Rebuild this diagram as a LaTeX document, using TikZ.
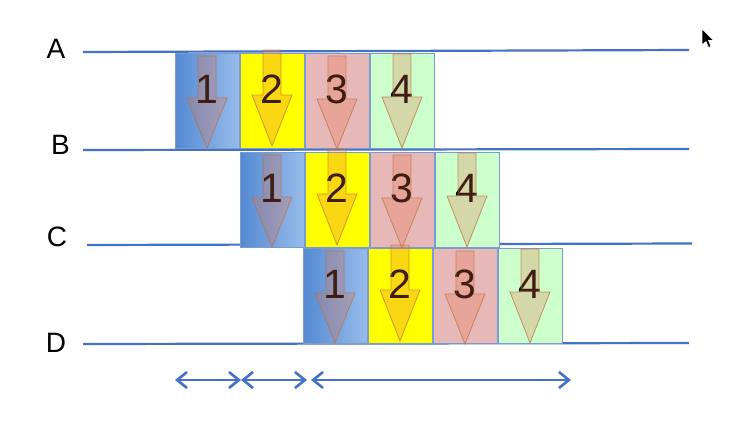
\documentclass[tikz,border=0pt]{standalone}
\usepackage{fontspec}
\setmainfont{Liberation Sans}
\usetikzlibrary{arrows.meta}
\definecolor{lineblue}{RGB}{68,114,196}
\definecolor{boxedge}{RGB}{125,155,205}
\definecolor{blueL}{RGB}{84,138,210}
\definecolor{blueR}{RGB}{152,188,234}
\definecolor{ylw}{RGB}{255,255,0}
\definecolor{pnk}{RGB}{230,185,184}
\definecolor{grn}{RGB}{204,255,204}
\definecolor{arrfill}{RGB}{235,110,69}
\definecolor{arredge}{RGB}{190,110,60}
\tikzset{
  rowline/.style={draw=lineblue, line width=2.2pt},
  boxbase/.style={draw=boxedge, line width=0.8pt, minimum width=64pt, minimum height=95pt, inner sep=0pt, anchor=north west},
  bluebox/.style={boxbase, left color=blueL, right color=blueR},
  ylwbox/.style={boxbase, fill=ylw},
  pnkbox/.style={boxbase, fill=pnk},
  grnbox/.style={boxbase, fill=grn},
  digit/.style={inner sep=0pt, font=\fontsize{41}{41}\selectfont, text=black},
  rowlabel/.style={inner sep=0pt, font=\fontsize{28}{28}\selectfont, text=black},
  downarr/.style={fill=arrfill, fill opacity=0.27, draw=arredge, draw opacity=0.7, line width=0.8pt, line join=miter},
  span/.style={draw=lineblue, line width=2.6pt, {Straight Barb[length=10pt,width=16pt,line width=2.6pt]}-{Straight Barb[length=10pt,width=16pt,line width=2.6pt]}}
}
% #1 centre x, #2 shaft top, #3 head start, #4 tip
\newcommand\dnarr[4]{%
  \path[downarr] ({#1-9},#2) -- ({#1+9},#2) -- ({#1+9},#3) -- ({#1+20},#3) -- (#1,#4) -- ({#1-20},#3) -- ({#1-9},#3) -- cycle;}
% #1 name, #2 style, #3 left x, #4 top y, #5 digit, #6 shaft offset, #7 head offset, #8 tip offset
\newcommand\cell[8]{%
  \node[#2] (#1) at (#3,#4) {};
  \node[digit] (#1d) at ({#3+32},{#4+36}) {#5};
  \dnarr{#3+32}{#4+#6}{#4+#7}{#4+95+#8}}
\begin{document}
\begin{tikzpicture}[x=1pt,y=-1pt]
\useasboundingbox (0,0) rectangle (730,422);
\fill[white] (0,0) rectangle (730,422);
% row lines
\coordinate (A1) at (83,52); \coordinate (A2) at (689,50);
\coordinate (B1) at (83,150); \coordinate (B2) at (689,149);
\coordinate (C1) at (87,245); \coordinate (C2) at (692,243.5);
\coordinate (D1) at (83,344); \coordinate (D2) at (689,343);
\draw[rowline] (A1) -- (A2);
\draw[rowline] (B1) -- (B2);
\draw[rowline] (C1) -- (C2);
\draw[rowline] (D1) -- (D2);
% labels
\node[rowlabel] (LA) at (56,49) {A};
\node[rowlabel] (LB) at (60.5,145) {B};
\node[rowlabel] (LC) at (57,237) {C};
\node[rowlabel] (LD) at (56,343) {D};
% row 1
\cell{r1a}{bluebox}{175}{53}{1}{3}{45}{0}
\cell{r1b}{ylwbox}{240}{53}{2}{-3}{42}{-2}
\cell{r1c}{pnkbox}{305}{53}{3}{3}{46}{1}
\cell{r1d}{grnbox}{370}{53}{4}{1}{44}{0}
% row 2
\cell{r2a}{bluebox}{240}{152}{1}{3}{45}{0}
\cell{r2b}{ylwbox}{305}{152}{2}{-3}{42}{-2}
\cell{r2c}{pnkbox}{370}{152}{3}{3}{46}{1}
\cell{r2d}{grnbox}{435}{152}{4}{1}{44}{0}
% row 3
\cell{r3a}{bluebox}{303}{248}{1}{3}{45}{0}
\cell{r3b}{ylwbox}{368}{248}{2}{-3}{42}{-2}
\cell{r3c}{pnkbox}{433}{248}{3}{3}{46}{1}
\cell{r3d}{grnbox}{498}{248}{4}{1}{44}{0}
% spans
\coordinate (s0) at (175,380);
\coordinate (s1) at (241,380);
\coordinate (s2) at (307,380);
\coordinate (s3) at (311,380);
\coordinate (s4) at (571,380);
\draw[span] (s0) -- (s1);
\draw[span] (s1) -- (s2);
\draw[span] (s3) -- (s4);
% mouse cursor
\coordinate (cur) at (702,29);
\filldraw[fill=black, draw=white, line width=0.6pt, shift={(cur)}]
  (0,0) -- (0,16) -- (4,12.5) -- (6.5,18.5) -- (9,17.5) -- (6.5,11.5) -- (11.5,11.5) -- cycle;
\end{tikzpicture}
\end{document}
